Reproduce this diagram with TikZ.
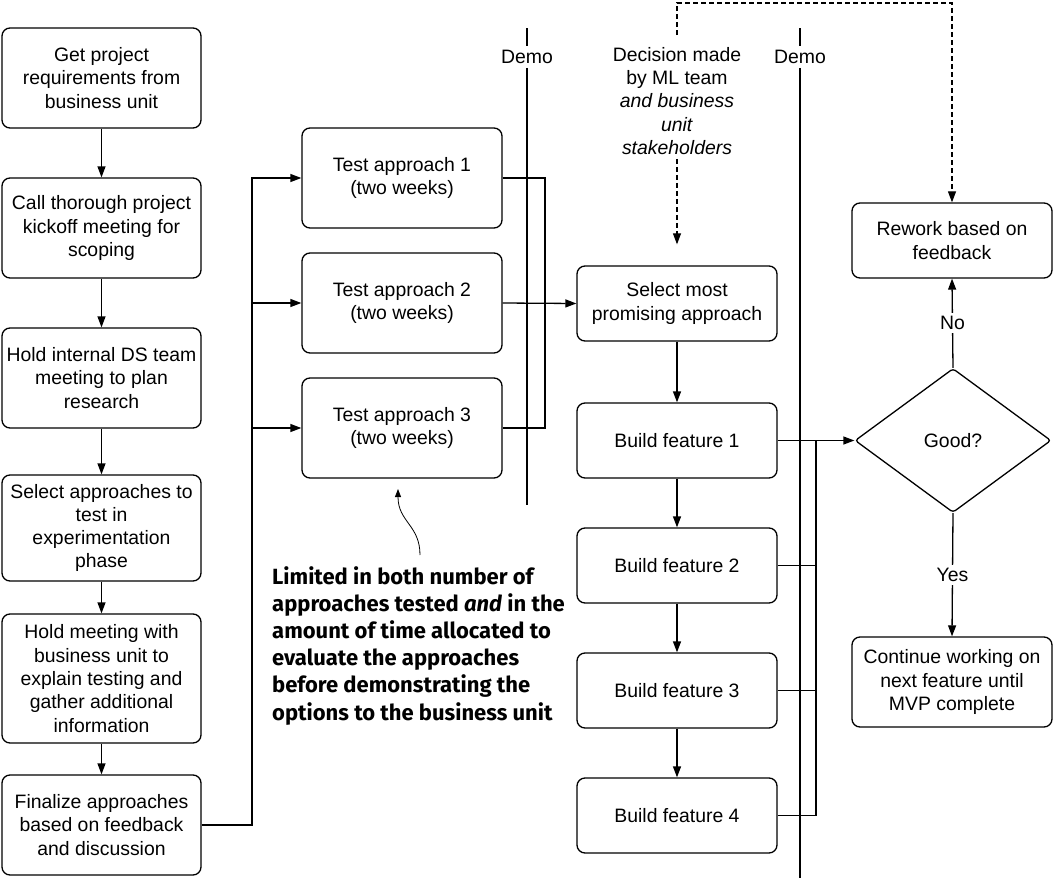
\documentclass[tikz,border=0pt]{standalone}
\usepackage{fontspec}
\setmainfont{Liberation Sans}
\newfontfamily\annfont{Fira Sans}
\usetikzlibrary{arrows.meta,shapes.geometric}
\begin{document}
\begin{tikzpicture}[x=1pt,y=-1pt,
  every node/.style={font=\fontsize{19.4}{23.3}\selectfont},
  box/.style={draw, rounded corners=8pt, line width=1.3pt, align=center, inner sep=0pt, minimum width=199pt},
  conn/.style={line width=1.3pt},
  arr/.style={conn, -{Triangle[length=11pt,width=8pt]}},
  dashline/.style={line width=1.1pt, dash pattern=on 5pt off 3pt},
  dasharr/.style={dashline, -{Triangle[length=11pt,width=8pt]}},
  demoline/.style={line width=2pt},
  lbl/.style={fill=white, inner sep=3pt}]
\useasboundingbox (0,0) rectangle (1053,878);

% left column
\node[box, minimum height=100pt] (b1) at (101.5,78) {Get project\\requirements from\\business unit};
\node[box, minimum height=100pt] (b2) at (101.5,228) {Call thorough project\\kickoff meeting for\\scoping};
\node[box, minimum height=100pt] (b3) at (101.5,378) {Hold internal DS team\\meeting to plan\\research};
\node[box, minimum height=106pt] (b4) at (101.5,528) {Select approaches to\\test in\\experimentation\\phase};
\node[box, minimum height=129pt] (b5) at (101.5,678.5) {Hold meeting with\\business unit to\\explain testing and\\gather additional\\information};
\node[box, minimum height=100pt] (b6) at (101.5,825) {Finalize approaches\\based on feedback\\and discussion};

\draw[arr] (b1) -- (b2);
\draw[arr] (b2) -- (b3);
\draw[arr] (b3) -- (b4);
\draw[arr] (b4) -- (b5);
\draw[arr] (b5) -- (b6);

% test boxes
\node[box, minimum width=200pt, minimum height=100pt] (t1) at (402,178) {Test approach 1\\(two weeks)};
\node[box, minimum width=200pt, minimum height=100pt] (t2) at (402,303) {Test approach 2\\(two weeks)};
\node[box, minimum width=200pt, minimum height=100pt] (t3) at (402,428) {Test approach 3\\(two weeks)};

\coordinate (jx) at (252,0);
\draw[arr] (b6.east) -| (jx |- t1.west) -- (t1.west);
\draw[arr] (jx |- t2.west) -- (t2.west);
\draw[arr] (jx |- t3.west) -- (t3.west);

% middle column
\node[box, minimum width=200pt, minimum height=75pt] (sel) at (677,303.5) {Select most\\promising approach};
\node[box, minimum width=200pt, minimum height=75pt] (f1) at (677,440.5) {Build feature 1};
\node[box, minimum width=200pt, minimum height=75pt] (f2) at (677,565.5) {Build feature 2};
\node[box, minimum width=200pt, minimum height=75pt] (f3) at (677,690.5) {Build feature 3};
\node[box, minimum width=200pt, minimum height=75pt] (f4) at (677,815.5) {Build feature 4};

\coordinate (kx) at (545,0);
\draw[conn] (t1.east) -| (kx |- t3.east) -- (t3.east);
\draw[arr] (t2.east) -- (sel.west);

\draw[arr] (sel) -- (f1);
\draw[arr] (f1) -- (f2);
\draw[arr] (f2) -- (f3);
\draw[arr] (f3) -- (f4);

% demo lines
\node[inner ysep=4pt] (demo1) at (527,57) {Demo};
\node[inner ysep=4pt] (demo2) at (800,57) {Demo};
\coordinate (d1top) at (527,28);
\coordinate (d1bot) at (527,505);
\coordinate (d2top) at (800,28);
\coordinate (d2bot) at (800,878);
\draw[demoline] (d1top) -- (demo1.north);
\draw[demoline] (demo1.south) -- (d1bot);
\draw[demoline] (d2top) -- (demo2.north);
\draw[demoline] (demo2.south) -- (d2bot);

% decision text
\node[align=center, inner sep=0pt] (dec) at (677,101) {Decision made\\by ML team\\\textit{and business}\\\textit{unit}\\\textit{stakeholders}};
\coordinate (dectop) at (677,35);
\coordinate (toprow) at (677,3);

% right column
\node[box, minimum width=200pt, minimum height=75pt] (rew) at (952,240.5) {Rework based on\\feedback};
\node[draw, diamond, minimum width=196pt, minimum height=144pt, inner sep=0pt, line width=1.3pt, rounded corners=3pt] (good) at (953,440.5) {Good?};
\node[box, minimum width=200pt, minimum height=90pt] (cont) at (952,682) {Continue working on\\next feature until\\MVP complete};

\draw[dasharr] (dectop) -- (toprow) -| (rew.north);
\draw[dasharr] ([yshift=-4pt]dec.south) -- ([yshift=21pt]sel.north);

\coordinate (vx) at (816,0);
\draw[arr] (f1.east) -- (good.west);
\draw[conn] (f4.east) -| (vx |- f1.east);
\draw[conn] (f2.east) -- (vx |- f2.east);
\draw[conn] (f3.east) -- (vx |- f3.east);

\draw[arr] (good.north) -- node[lbl] {No} (rew.south);
\draw[arr] (good.south) -- node[lbl] {Yes} (cont.north);

% annotation
\node[anchor=north west, align=left, inner sep=0pt, font=\annfont\bfseries\fontsize{22}{27.2}\selectfont] (note) at (272,566)
  {Limited in both number of\\approaches tested \textit{and} in the\\amount of time allocated to\\evaluate the approaches\\before demonstrating the\\options to the business unit};
\coordinate (notetail) at (420,555);
\coordinate (notetip) at (398,489);
\draw[line width=0.8pt, -{Triangle[length=8pt,width=6pt]}] (notetail) .. controls (420,525) and (398,522) .. (notetip);
\end{tikzpicture}
\end{document}
